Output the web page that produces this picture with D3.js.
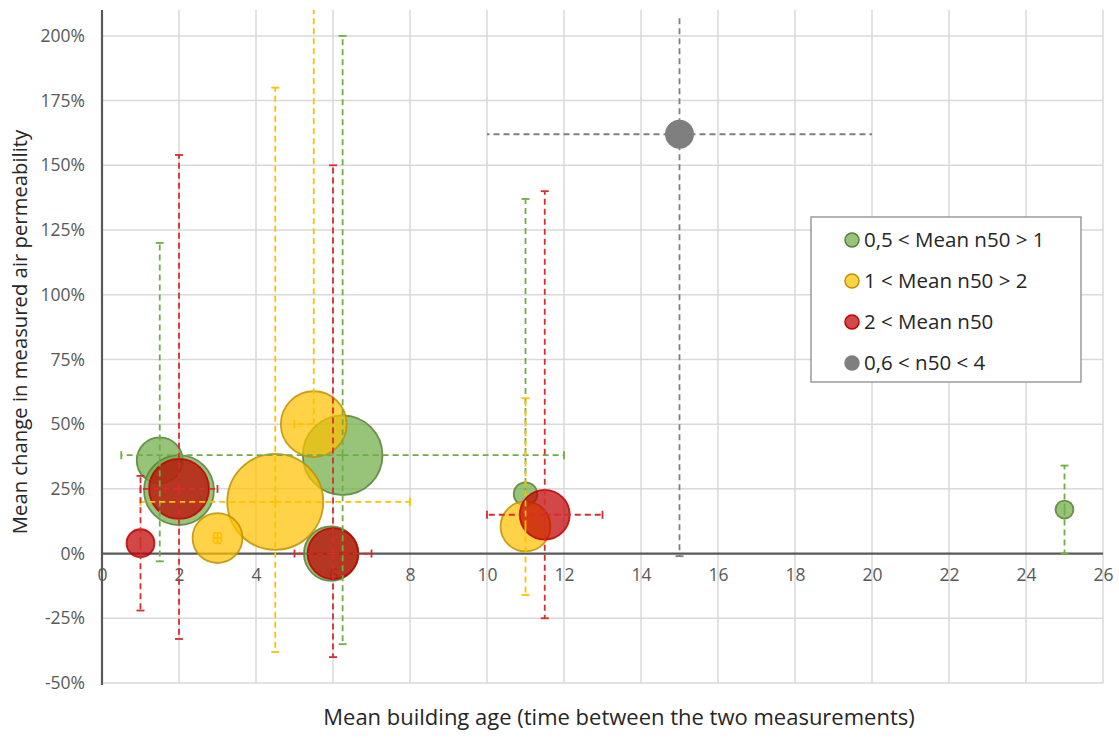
<!DOCTYPE html>
<html>
<head>
<meta charset="utf-8">
<script src="https://cdn.jsdelivr.net/npm/d3@7"></script>
<style>
  html, body { margin: 0; padding: 0; background: #fff; }
  svg { display: block; font-family: "Open Sans", "Liberation Sans", sans-serif; }
</style>
</head>
<body>
<svg id="chart" width="1119" height="738"></svg>
<script>
// ---------- data ----------
const seriesNames = ["0,5 < Mean n50 > 1", "1 < Mean n50 > 2", "2 < Mean n50", "0,6 < n50 < 4"];
const seriesColors = ["#70AD47", "#FFC000", "#C00000", "#7F7F7F"];
const seriesStrokes = ["#548235", "#BF9000", "#C00000", "#7F7F7F"];
const seriesErrColors = ["#70AD47", "#FFC000", "#D62D2D", "#7F7F7F"];

// green series
const ageGreen = [1.5, 2, 6.25, 5.95, 11, 25];
const changeGreen = [0.36, 0.245, 0.38, 0.0, 0.23, 0.17];
const sizeGreen = [23, 53, 69, 32, 6, 3.5];
const xLowGreen = [1.5, 2, 0.5, 5.95, 11, 25];
const xHighGreen = [1.5, 2, 12, 5.95, 11, 25];
const yLowGreen = [-0.03, 0.245, -0.35, 0.0, 0.23, 0.0];
const yHighGreen = [1.20, 0.245, 2.00, 0.0, 1.37, 0.34];

// yellow series
const ageYellow = [5.5, 4.5, 3, 11];
const changeYellow = [0.50, 0.20, 0.06, 0.105];
const sizeYellow = [47, 100, 27, 27];
const xLowYellow = [5.0, 1.0, 2.9, 11];
const xHighYellow = [5.5, 8.0, 3.1, 11];
const yLowYellow = [0.50, -0.38, 0.04, -0.16];
const yHighYellow = [2.40, 1.80, 0.08, 0.60];

// red series
const ageRed = [1, 2, 6, 11.5];
const changeRed = [0.04, 0.25, 0.0, 0.15];
const sizeRed = [8.5, 39, 28, 27];
const xLowRed = [1, 1, 5, 10];
const xHighRed = [1, 3, 7, 13];
const yLowRed = [-0.22, -0.33, -0.40, -0.25];
const yHighRed = [0.30, 1.54, 1.50, 1.40];

// gray series
const ageGray = [15];
const changeGray = [1.62];
const sizeGray = [8];
const xLowGray = [10];
const xHighGray = [20];
const yLowGray = [-0.01];
const yHighGray = [2.08];

const xTicks = [0, 2, 4, 6, 8, 10, 12, 14, 16, 18, 20, 22, 24, 26];
const yTicks = [-0.5, -0.25, 0, 0.25, 0.5, 0.75, 1.0, 1.25, 1.5, 1.75, 2.0];

const xTitle = "Mean building age (time between the two measurements)";
const yTitle = "Mean change in measured air permeability";

// ---------- build ----------
function build(x, y, s, xl, xh, yl, yh, si) {
  return x.map((v, i) => ({ x: v, y: y[i], s: s[i], xl: xl[i], xh: xh[i], yl: yl[i], yh: yh[i], si }));
}
const seriesData = [
  build(ageGreen, changeGreen, sizeGreen, xLowGreen, xHighGreen, yLowGreen, yHighGreen, 0),
  build(ageYellow, changeYellow, sizeYellow, xLowYellow, xHighYellow, yLowYellow, yHighYellow, 1),
  build(ageRed, changeRed, sizeRed, xLowRed, xHighRed, yLowRed, yHighRed, 2),
  build(ageGray, changeGray, sizeGray, xLowGray, xHighGray, yLowGray, yHighGray, 3)
];

const svg = d3.select("#chart");
const pLeft = 102, pRight = 1103, pTop = 10, pBottom = 683;

const x = d3.scaleLinear().domain([0, 26]).range([pLeft, pRight]);
const y = d3.scaleLinear().domain([-0.5, 2.1]).range([pBottom, pTop]);
const r = d3.scaleSqrt().domain([0, 100]).range([0, 48]);

svg.append("defs").append("clipPath").attr("id", "clip")
  .append("rect").attr("x", pLeft).attr("y", pTop).attr("width", pRight - pLeft).attr("height", pBottom - pTop);

// grid
const grid = svg.append("g");
grid.selectAll("line.v").data(xTicks.filter(d => d > 0)).enter().append("line")
  .attr("x1", d => x(d)).attr("x2", d => x(d)).attr("y1", pTop).attr("y2", pBottom)
  .attr("stroke", "#d9d9d9").attr("stroke-width", 1.5);
grid.selectAll("line.h").data(yTicks.filter(d => d !== 0)).enter().append("line")
  .attr("x1", pLeft).attr("x2", pRight).attr("y1", d => y(d)).attr("y2", d => y(d))
  .attr("stroke", "#d9d9d9").attr("stroke-width", 1.5);

// y axis
const pct = d3.format(".0%");
const yAxis = d3.axisLeft(y).tickValues(yTicks).tickFormat(d => pct(d).replace("\u2212", "-")).tickSize(0).tickPadding(17);
const gy = svg.append("g").attr("transform", `translate(${pLeft},0)`).call(yAxis);
gy.select(".domain").remove();
gy.selectAll("text").attr("font-size", 17.5).attr("fill", "#595959").attr("font-family", "Open Sans");
svg.append("line").attr("x1", pLeft).attr("x2", pLeft).attr("y1", pTop).attr("y2", pBottom + 2)
  .attr("stroke", "#595959").attr("stroke-width", 2.2);

// x axis on zero line
const xAxis = d3.axisBottom(x).tickValues(xTicks).tickFormat(d3.format("d")).tickSize(0).tickPadding(15);
const gx = svg.append("g").attr("transform", `translate(0,${y(0)})`).call(xAxis);
gx.select(".domain").remove();
gx.selectAll("text").attr("font-size", 17.5).attr("fill", "#595959").attr("font-family", "Open Sans");
svg.append("line").attr("x1", pLeft).attr("x2", pRight).attr("y1", y(0)).attr("y2", y(0))
  .attr("stroke", "#595959").attr("stroke-width", 2.2);

// bubbles
const plot = svg.append("g").attr("clip-path", "url(#clip)");
seriesData.forEach(ser => {
  plot.append("g").selectAll("circle").data(ser).enter().append("circle")
    .attr("cx", d => x(d.x)).attr("cy", d => y(d.y)).attr("r", d => r(d.s))
    .attr("fill", seriesColors[ser[0].si]).attr("fill-opacity", ser[0].si === 3 ? 1 : 0.72)
    .attr("stroke", seriesStrokes[ser[0].si]).attr("stroke-width", 1.8)
    .attr("stroke-opacity", ser[0].si === 3 ? 1 : 0.85);
});

// error bars
const capW = 4;
seriesData.forEach(ser => {
  const col = seriesErrColors[ser[0].si];
  const g = plot.append("g").attr("stroke", col).attr("stroke-width", 1.8).attr("fill", "none");
  ser.forEach(d => {
    const cx = x(d.x), cy = y(d.y);
    const segs = [];
    if (d.yh > d.y) segs.push({ x1: cx, y1: cy, x2: cx, y2: y(d.yh), cap: "h" });
    if (d.yl < d.y) segs.push({ x1: cx, y1: cy, x2: cx, y2: y(d.yl), cap: "h" });
    if (d.xh > d.x) segs.push({ x1: cx, y1: cy, x2: x(d.xh), y2: cy, cap: "v" });
    if (d.xl < d.x) segs.push({ x1: cx, y1: cy, x2: x(d.xl), y2: cy, cap: "v" });
    segs.forEach(s => {
      g.append("line").attr("x1", s.x1).attr("y1", s.y1).attr("x2", s.x2).attr("y2", s.y2)
        .attr("stroke-dasharray", "6,4");
      const showCap = d.si !== 3 || (s.cap === "h" && s.y2 > cy);
      if (showCap) {
        if (s.cap === "h") g.append("line").attr("x1", s.x2 - capW).attr("x2", s.x2 + capW).attr("y1", s.y2).attr("y2", s.y2);
        else g.append("line").attr("x1", s.x2).attr("x2", s.x2).attr("y1", s.y2 - capW).attr("y2", s.y2 + capW);
      }
    });
  });
});

// legend
const lg = svg.append("g");
lg.append("rect").attr("x", 811).attr("y", 217).attr("width", 270).attr("height", 165)
  .attr("fill", "#fff").attr("stroke", "#8c8c8c").attr("stroke-width", 1.3);
seriesNames.forEach((name, i) => {
  const yy = 240 + i * 41;
  lg.append("circle").attr("cx", 852).attr("cy", yy).attr("r", 7)
    .attr("fill", seriesColors[i]).attr("fill-opacity", i === 3 ? 1 : 0.72)
    .attr("stroke", seriesStrokes[i]).attr("stroke-width", 1.5);
  lg.append("text").attr("x", 864).attr("y", yy).attr("dy", "0.36em")
    .attr("font-size", 20.5).attr("fill", "#262626").text(name);
});

// titles
svg.append("text").attr("x", 619).attr("y", 725).attr("text-anchor", "middle")
  .attr("font-size", 22).attr("fill", "#262626").text(xTitle);
svg.append("text").attr("transform", "translate(27,332) rotate(-90)").attr("text-anchor", "middle")
  .attr("font-size", 20.3).attr("fill", "#262626").text(yTitle);
</script>
</body>
</html>
